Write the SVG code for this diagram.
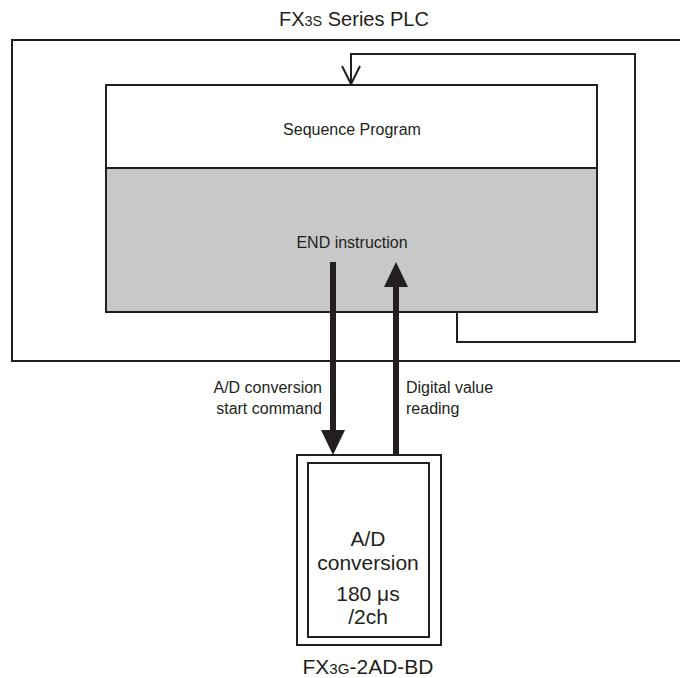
<svg xmlns="http://www.w3.org/2000/svg" width="680" height="678" viewBox="0 0 680 678">
<style>
.box{fill:none;stroke:#231f20;stroke-width:2}
.t{font-family:"Liberation Sans",Arial,sans-serif;font-size:16px;fill:#231f20}
.big{font-size:21px}
.title{font-size:20px}
.s{font-size:0.72em}
.thin{fill:none;stroke:#231f20;stroke-width:2}
.thick{fill:none;stroke:#231f20;stroke-width:6}
</style>
<g id="plc">
<rect x="12" y="40" width="670" height="321" class="box"/>
<text x="354" y="26" class="t title" text-anchor="middle">FX<tspan class="s">3S</tspan> Series PLC</text>
</g>
<g id="sequence">
<rect x="106" y="85" width="491" height="83" fill="#fff" stroke="#231f20" stroke-width="2"/>
<text x="352" y="135" class="t" text-anchor="middle">Sequence Program</text>
</g>
<g id="end">
<rect x="106" y="168" width="491" height="144" fill="#c8c8ca" stroke="#231f20" stroke-width="2"/>
<text x="352" y="248" class="t" text-anchor="middle">END instruction</text>
</g>
<g id="module">
<rect x="297" y="455" width="144" height="190" class="box"/>
<rect x="308" y="463" width="121" height="174" class="box"/>
<text x="368" y="546" class="t big" text-anchor="middle">A/D</text>
<text x="368" y="570" class="t big" text-anchor="middle">conversion</text>
<text x="368" y="601" class="t big" text-anchor="middle">180 μs</text>
<text x="368" y="624" class="t big" text-anchor="middle">/2ch</text>
<text x="368" y="674" class="t big" text-anchor="middle">FX<tspan class="s">3G</tspan>-2AD-BD</text>
</g>
<g id="connectors">
<polyline points="457,312 457,342 635,342 635,54 351,54 351,84" class="thin"/>
<polyline points="342,66 351,84 360,66" class="thin"/>
<line x1="333" y1="262" x2="333" y2="432" class="thick"/>
<path d="M321,430 L345,430 L333,455 Z" fill="#231f20"/>
<line x1="396" y1="455" x2="396" y2="284" class="thick"/>
<path d="M384,287 L408,287 L396,262 Z" fill="#231f20"/>
<text x="322" y="393" class="t" text-anchor="end">A/D conversion</text>
<text x="322" y="414" class="t" text-anchor="end">start command</text>
<text x="406" y="393" class="t">Digital value</text>
<text x="406" y="414" class="t">reading</text>
</g>
</svg>
